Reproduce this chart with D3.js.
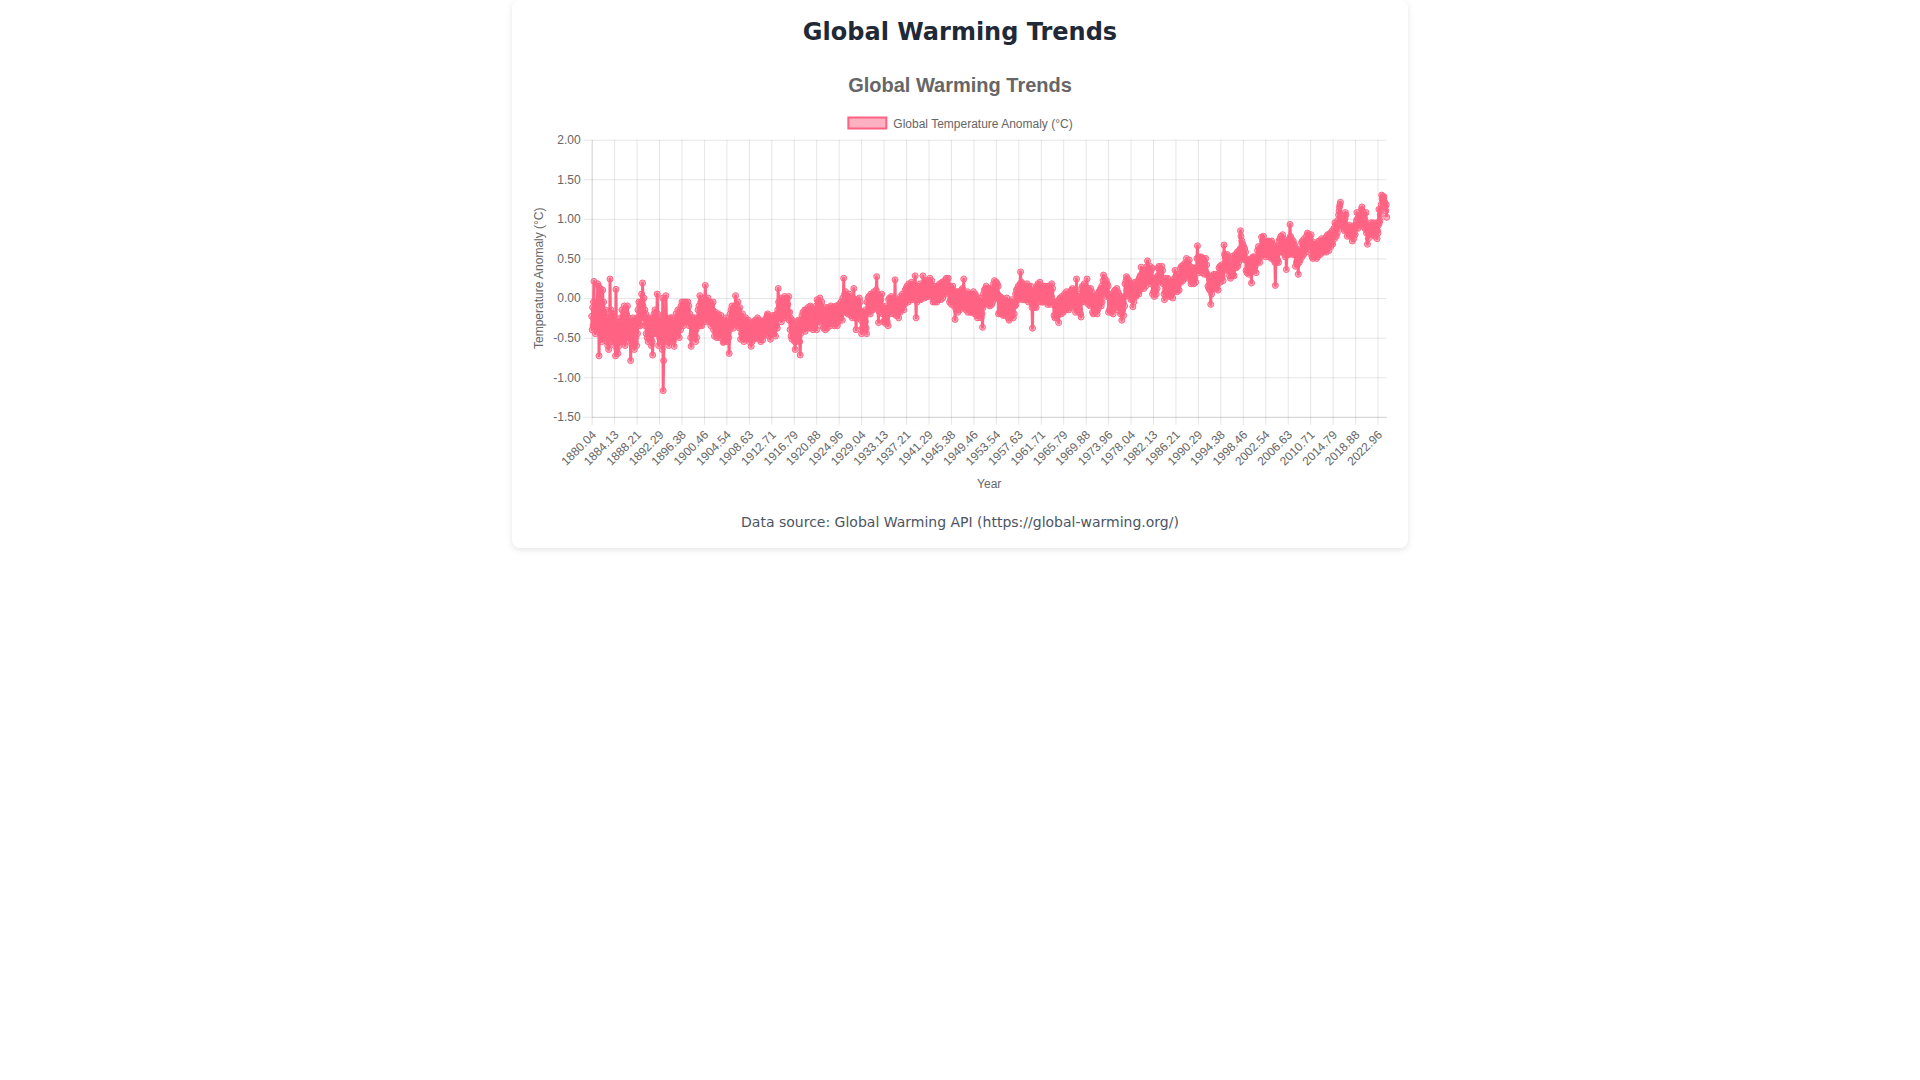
<!DOCTYPE html>
<html>
<head>
<meta charset="utf-8">
<script src="https://cdn.jsdelivr.net/npm/d3@7"></script>
<style>
  html, body { margin: 0; padding: 0; background: #ffffff; width: 1920px; height: 1080px; overflow: hidden; }
  #card { position: absolute; left: 512px; top: 0px; width: 896px; height: 548px; background: #fff;
          border-radius: 8px; box-shadow: 0 2px 6px rgba(0,0,0,0.10); }
  svg { position: absolute; left: 0; top: 0; }
</style>
</head>
<body>
<div id="card"></div>
<svg id="chart" width="1920" height="1080"></svg>
<script>
// Monthly anomalies (°C), Jan 1880 .. Aug 2024
const anomaly = [
/*1880*/ -0.23,-0.40,-0.12,-0.35,-0.05,0.21,-0.30,-0.15,-0.45,-0.20,-0.38,-0.10,
/*1881*/ -0.25,0.18,-0.40,0.15,-0.73,-0.30,-0.10,0.12,-0.45,-0.20,-0.55,-0.15,
/*1882*/ 0.10,-0.35,-0.05,-0.50,-0.20,-0.45,-0.15,-0.40,-0.25,-0.55,-0.30,-0.60,
/*1883*/ -0.45,-0.65,-0.25,-0.50,0.24,-0.30,-0.15,-0.45,-0.20,-0.55,-0.35,-0.20,
/*1884*/ -0.55,-0.30,-0.60,-0.35,-0.73,0.11,-0.45,-0.65,-0.30,-0.70,-0.40,-0.55,
/*1885*/ -0.60,-0.35,-0.55,-0.25,-0.50,-0.30,-0.15,-0.45,-0.25,-0.55,-0.35,-0.10,
/*1886*/ -0.45,-0.60,-0.30,-0.50,-0.20,-0.45,-0.10,-0.40,-0.25,-0.50,-0.35,-0.55,
/*1887*/ -0.30,-0.79,-0.40,-0.55,-0.35,-0.60,-0.25,-0.50,-0.30,-0.65,-0.35,-0.55,
/*1888*/ -0.50,-0.30,-0.60,-0.25,-0.45,-0.15,-0.35,-0.05,-0.25,-0.10,-0.35,-0.20,
/*1889*/ -0.05,0.05,-0.15,0.19,-0.10,-0.25,0.00,-0.30,-0.15,-0.35,-0.20,-0.45,
/*1890*/ -0.25,-0.50,-0.35,-0.55,-0.30,-0.45,-0.25,-0.50,-0.35,-0.40,-0.60,-0.30,
/*1891*/ -0.55,-0.72,-0.25,-0.45,-0.20,-0.40,-0.15,-0.35,-0.20,-0.45,-0.30,0.05,
/*1892*/ -0.20,-0.45,-0.60,-0.35,-0.50,-0.30,-0.55,-0.25,-0.45,-0.35,-0.65,0.00,
/*1893*/ -1.17,-0.79,-0.45,-0.55,-0.30,-0.50,0.03,-0.25,-0.50,-0.30,-0.55,-0.40,
/*1894*/ -0.60,-0.30,-0.45,-0.25,-0.50,-0.30,-0.55,-0.25,-0.45,-0.35,-0.55,-0.30,
/*1895*/ -0.61,-0.50,-0.35,-0.45,-0.20,-0.40,-0.25,-0.45,-0.15,-0.35,-0.25,-0.50,
/*1896*/ -0.35,-0.15,-0.40,-0.10,-0.30,-0.05,-0.25,-0.10,-0.35,-0.05,-0.30,-0.15,
/*1897*/ -0.30,-0.05,-0.25,-0.10,-0.30,-0.15,-0.05,-0.30,-0.10,-0.35,-0.20,-0.30,
/*1898*/ -0.50,-0.61,-0.35,-0.45,-0.25,-0.40,-0.30,-0.50,-0.25,-0.45,-0.35,-0.55,
/*1899*/ -0.40,-0.50,-0.25,-0.35,-0.15,-0.30,-0.10,-0.25,0.03,-0.35,-0.05,-0.30,
/*1900*/ -0.35,-0.15,-0.30,-0.05,-0.20,0.00,-0.25,-0.05,0.16,-0.20,-0.30,-0.10,
/*1901*/ -0.05,-0.25,0.00,-0.20,-0.10,-0.30,-0.05,-0.25,-0.35,-0.10,-0.30,-0.15,
/*1902*/ -0.15,-0.05,-0.40,-0.25,-0.48,-0.30,-0.18,-0.42,-0.28,-0.50,-0.35,-0.22,
/*1903*/ -0.20,-0.45,-0.28,-0.50,-0.30,-0.38,-0.22,-0.48,-0.35,-0.28,-0.45,-0.56,
/*1904*/ -0.40,-0.55,-0.30,-0.52,-0.38,-0.25,-0.48,-0.35,-0.55,-0.30,-0.45,-0.50,
/*1905*/ -0.70,-0.40,-0.20,-0.35,-0.15,-0.28,-0.10,-0.30,-0.22,-0.38,-0.18,-0.32,
/*1906*/ -0.10,-0.30,0.03,-0.25,-0.08,-0.20,-0.35,-0.05,-0.28,-0.15,-0.38,-0.12,
/*1907*/ -0.30,-0.52,-0.25,-0.45,-0.38,-0.20,-0.48,-0.35,-0.55,-0.28,-0.50,-0.40,
/*1908*/ -0.25,-0.45,-0.35,-0.52,-0.30,-0.48,-0.28,-0.40,-0.55,-0.35,-0.50,-0.32,
/*1909*/ -0.61,-0.40,-0.55,-0.35,-0.48,-0.30,-0.52,-0.38,-0.45,-0.28,-0.50,-0.42,
/*1910*/ -0.30,-0.50,-0.25,-0.45,-0.35,-0.52,-0.28,-0.42,-0.38,-0.55,-0.32,-0.48,
/*1911*/ -0.40,-0.53,-0.30,-0.48,-0.35,-0.28,-0.45,-0.30,-0.40,-0.25,-0.42,-0.22,
/*1912*/ -0.20,-0.42,-0.28,-0.48,-0.25,-0.38,-0.52,-0.30,-0.45,-0.28,-0.40,-0.22,
/*1913*/ -0.25,-0.45,-0.28,-0.40,-0.22,-0.48,-0.30,-0.35,-0.20,-0.38,-0.15,0.12,
/*1914*/ -0.05,-0.22,-0.10,-0.25,0.00,-0.18,-0.30,-0.05,-0.20,-0.02,-0.25,-0.12,
/*1915*/ -0.08,0.02,-0.20,-0.05,-0.25,-0.10,0.00,-0.22,-0.08,-0.18,0.02,-0.28,
/*1916*/ -0.18,-0.40,-0.25,-0.48,-0.30,-0.52,-0.28,-0.42,-0.35,-0.50,-0.38,-0.55,
/*1917*/ -0.65,-0.40,-0.55,-0.35,-0.48,-0.30,-0.45,-0.28,-0.50,-0.40,-0.55,-0.72,
/*1918*/ -0.45,-0.28,-0.40,-0.22,-0.35,-0.18,-0.38,-0.25,-0.30,-0.15,-0.42,-0.30,
/*1919*/ -0.15,-0.32,-0.20,-0.38,-0.12,-0.28,-0.35,-0.18,-0.30,-0.10,-0.38,-0.25,
/*1920*/ -0.12,-0.35,-0.18,-0.40,-0.20,-0.30,-0.15,-0.38,-0.25,-0.32,-0.10,-0.40,
/*1921*/ -0.02,-0.25,-0.05,-0.28,-0.08,-0.22,0.00,-0.30,-0.10,-0.20,-0.05,-0.25,
/*1922*/ -0.35,-0.18,-0.38,-0.15,-0.30,-0.22,-0.40,-0.12,-0.32,-0.20,-0.38,-0.25,
/*1923*/ -0.12,-0.32,-0.15,-0.30,-0.20,-0.35,-0.10,-0.28,-0.18,-0.32,-0.12,-0.25,
/*1924*/ -0.30,-0.12,-0.35,-0.18,-0.28,-0.10,-0.32,-0.20,-0.35,-0.15,-0.30,-0.22,
/*1925*/ -0.08,-0.25,-0.10,-0.22,-0.05,-0.20,-0.12,-0.28,0.00,-0.18,0.25,-0.10,
/*1926*/ 0.05,-0.15,0.08,-0.12,0.00,-0.18,-0.05,-0.20,0.02,-0.10,0.05,-0.15,
/*1927*/ -0.05,-0.22,-0.02,-0.18,-0.08,-0.25,0.00,-0.15,0.12,-0.20,-0.05,-0.25,
/*1928*/ -0.10,-0.40,-0.05,-0.22,-0.02,-0.18,-0.08,-0.25,0.00,-0.15,-0.05,-0.20,
/*1929*/ -0.28,-0.45,-0.20,-0.38,-0.22,-0.35,-0.18,-0.40,-0.25,-0.30,-0.15,-0.38,
/*1930*/ -0.45,-0.05,-0.18,0.00,-0.15,0.02,-0.12,-0.05,-0.20,0.05,-0.08,-0.15,
/*1931*/ 0.02,-0.15,0.05,-0.10,0.08,-0.05,-0.12,0.05,-0.08,0.10,0.27,-0.05,
/*1932*/ 0.05,-0.15,-0.31,-0.05,-0.18,0.02,-0.10,-0.02,-0.15,0.05,-0.12,-0.20,
/*1933*/ -0.12,-0.30,-0.15,-0.28,-0.18,-0.32,-0.10,-0.25,-0.20,-0.30,-0.15,-0.35,
/*1934*/ -0.02,-0.18,0.00,-0.15,-0.05,-0.20,0.02,-0.12,-0.08,0.00,-0.15,-0.05,
/*1935*/ -0.05,-0.20,0.23,-0.15,-0.22,-0.05,-0.18,-0.08,-0.20,-0.02,-0.25,-0.10,
/*1936*/ -0.02,-0.18,0.02,-0.15,-0.05,-0.12,0.05,-0.10,-0.02,-0.15,0.00,-0.08,
/*1937*/ 0.10,-0.05,0.12,-0.02,0.15,0.00,0.08,-0.05,0.18,0.02,0.10,-0.02,
/*1938*/ 0.12,0.00,0.20,0.05,0.15,-0.02,0.18,0.05,0.12,0.00,0.28,0.05,
/*1939*/ -0.25,0.10,-0.05,0.15,0.00,0.12,-0.02,0.10,0.05,0.18,-0.02,0.12,
/*1940*/ 0.00,0.15,0.02,0.28,0.05,0.18,0.00,0.20,0.08,0.22,0.02,0.15,
/*1941*/ 0.18,0.02,0.22,0.05,0.20,0.08,0.25,0.02,0.18,0.05,0.22,0.10,
/*1942*/ 0.12,-0.05,0.15,-0.02,0.10,-0.05,0.12,0.00,0.08,-0.05,0.15,0.02,
/*1943*/ -0.02,0.15,0.00,0.18,0.05,0.12,-0.02,0.15,0.05,0.20,0.00,0.12,
/*1944*/ 0.20,0.05,0.22,0.08,0.18,0.10,0.25,0.05,0.20,0.12,0.25,0.08,
/*1945*/ 0.12,-0.05,0.15,-0.02,0.10,-0.08,0.12,0.00,0.15,-0.05,0.08,-0.10,
/*1946*/ 0.05,-0.27,0.08,-0.15,0.02,-0.12,0.08,-0.18,0.05,-0.10,0.02,-0.15,
/*1947*/ -0.12,0.08,-0.10,0.10,-0.08,0.12,-0.05,0.08,0.24,-0.12,0.05,-0.10,
/*1948*/ 0.05,-0.15,0.02,-0.12,0.08,-0.18,0.00,-0.15,0.05,-0.10,0.02,-0.18,
/*1949*/ -0.15,0.05,-0.18,0.02,-0.12,0.08,-0.15,0.00,-0.20,0.05,-0.12,0.02,
/*1950*/ -0.22,-0.05,-0.25,-0.02,-0.20,-0.08,-0.18,0.00,-0.22,-0.05,-0.25,-0.10,
/*1951*/ -0.20,-0.37,-0.12,0.05,-0.08,0.10,-0.02,0.12,0.00,0.15,-0.05,0.12,
/*1952*/ 0.10,-0.08,0.12,-0.05,0.08,-0.10,0.12,-0.02,0.10,-0.08,0.05,-0.05,
/*1953*/ 0.02,0.18,0.05,0.22,0.00,0.15,0.08,0.20,0.02,0.18,0.05,0.15,
/*1954*/ -0.20,-0.02,-0.18,0.02,-0.15,-0.05,-0.20,0.00,-0.18,-0.05,-0.22,-0.08,
/*1955*/ -0.02,-0.20,-0.05,-0.22,-0.08,-0.18,0.00,-0.20,-0.05,-0.25,-0.10,-0.28,
/*1956*/ -0.22,-0.05,-0.25,-0.08,-0.20,-0.02,-0.22,-0.10,-0.25,-0.05,-0.20,-0.08,
/*1957*/ -0.10,0.05,-0.08,0.10,-0.02,0.12,0.00,0.15,-0.02,0.12,0.05,0.18,
/*1958*/ 0.33,0.15,0.20,0.02,0.18,-0.02,0.15,0.05,0.12,-0.02,0.15,0.00,
/*1959*/ 0.15,-0.02,0.18,0.00,0.12,-0.05,0.15,-0.02,0.10,0.02,0.15,-0.05,
/*1960*/ 0.08,-0.12,-0.38,0.05,-0.10,0.08,-0.12,0.10,-0.08,0.05,-0.12,0.12,
/*1961*/ 0.15,-0.02,0.18,0.00,0.15,0.02,0.20,-0.05,0.12,0.00,0.15,-0.05,
/*1962*/ 0.12,-0.05,0.15,-0.02,0.12,0.00,0.15,-0.05,0.10,0.02,0.12,-0.08,
/*1963*/ 0.15,-0.05,0.12,0.00,0.15,-0.08,0.10,0.02,0.18,-0.02,0.12,-0.05,
/*1964*/ -0.05,-0.22,-0.08,-0.25,-0.10,-0.20,-0.05,-0.25,-0.12,-0.22,-0.08,-0.31,
/*1965*/ -0.02,-0.18,0.00,-0.15,-0.05,-0.20,0.02,-0.12,-0.08,-0.18,0.00,-0.15,
/*1966*/ 0.05,-0.12,0.02,-0.15,0.08,-0.10,0.05,-0.12,0.00,-0.15,0.05,-0.10,
/*1967*/ -0.10,0.08,-0.12,0.10,-0.08,0.12,-0.05,0.08,-0.10,0.10,-0.08,0.05,
/*1968*/ -0.18,0.02,0.24,-0.15,0.00,-0.12,0.05,-0.18,0.02,-0.15,0.00,-0.20,
/*1969*/ -0.24,0.12,-0.05,0.15,-0.02,0.12,0.00,0.18,-0.05,0.15,0.02,0.12,
/*1970*/ 0.12,0.24,-0.05,0.12,-0.08,0.10,-0.05,0.08,-0.10,0.12,-0.05,0.08,
/*1971*/ 0.02,-0.18,0.00,-0.20,0.02,-0.15,-0.05,-0.18,0.00,-0.15,0.02,-0.20,
/*1972*/ -0.15,0.05,-0.12,0.08,-0.08,0.10,-0.05,0.12,-0.10,0.15,-0.05,0.12,
/*1973*/ 0.22,0.29,0.10,0.25,0.05,0.20,0.08,0.22,0.02,0.18,0.05,0.15,
/*1974*/ -0.18,0.02,-0.15,0.05,-0.12,-0.02,-0.18,0.02,-0.15,-0.05,-0.20,0.00,
/*1975*/ 0.08,-0.10,0.10,-0.08,0.05,-0.12,0.12,-0.05,0.08,-0.15,0.05,-0.08,
/*1976*/ -0.12,0.02,-0.20,-0.02,-0.18,-0.28,0.00,-0.15,-0.05,-0.22,0.02,-0.10,
/*1977*/ 0.18,0.02,0.22,0.27,0.10,0.25,0.05,0.20,0.08,0.22,0.05,0.18,
/*1978*/ 0.10,-0.02,0.15,0.00,0.18,-0.11,0.12,-0.05,0.15,0.02,0.20,0.05,
/*1979*/ 0.02,0.15,0.05,0.20,0.08,0.22,0.05,0.25,0.10,0.28,0.12,0.39,
/*1980*/ 0.30,0.15,0.32,0.18,0.35,0.12,0.30,0.20,0.35,0.15,0.28,0.22,
/*1981*/ 0.40,0.47,0.22,0.38,0.20,0.35,0.25,0.40,0.18,0.35,0.22,0.38,
/*1982*/ 0.05,0.22,0.08,0.25,0.02,0.20,0.10,0.25,0.05,0.22,0.12,0.28,
/*1983*/ 0.38,0.22,0.40,0.25,0.35,0.20,0.37,0.25,0.40,0.22,0.35,0.18,
/*1984*/ 0.22,0.05,-0.02,0.20,0.08,0.25,0.05,0.22,0.10,0.25,0.02,0.18,
/*1985*/ 0.05,0.20,0.02,0.18,0.08,0.22,0.05,0.18,0.00,0.20,0.08,0.15,
/*1986*/ 0.25,0.35,0.10,0.28,0.12,0.25,0.08,0.30,0.15,0.28,0.10,0.25,
/*1987*/ 0.22,0.38,0.20,0.40,0.25,0.35,0.22,0.42,0.28,0.38,0.25,0.40,
/*1988*/ 0.45,0.28,0.50,0.30,0.45,0.25,0.42,0.30,0.48,0.28,0.40,0.25,
/*1989*/ 0.18,0.35,0.20,0.38,0.22,0.32,0.18,0.38,0.25,0.35,0.20,0.38,
/*1990*/ 0.35,0.50,0.66,0.38,0.52,0.32,0.48,0.35,0.50,0.38,0.52,0.40,
/*1991*/ 0.48,0.32,0.50,0.35,0.48,0.30,0.45,0.35,0.50,0.32,0.42,0.30,
/*1992*/ 0.30,0.15,0.28,0.12,0.25,0.10,0.22,-0.08,0.18,0.05,0.25,0.12,
/*1993*/ 0.28,0.15,0.30,0.12,0.25,0.18,0.30,0.12,0.28,0.15,0.25,0.10,
/*1994*/ 0.22,0.38,0.25,0.40,0.20,0.35,0.25,0.42,0.28,0.38,0.22,0.40,
/*1995*/ 0.67,0.55,0.38,0.52,0.35,0.50,0.40,0.55,0.35,0.52,0.38,0.45,
/*1996*/ 0.28,0.42,0.25,0.45,0.30,0.40,0.28,0.53,0.30,0.42,0.28,0.40,
/*1997*/ 0.40,0.55,0.38,0.52,0.42,0.58,0.40,0.55,0.45,0.60,0.48,0.62,
/*1998*/ 0.85,0.78,0.60,0.72,0.55,0.68,0.52,0.65,0.50,0.62,0.48,0.58,
/*1999*/ 0.35,0.50,0.32,0.48,0.35,0.45,0.30,0.48,0.38,0.45,0.32,0.48,
/*2000*/ 0.19,0.50,0.35,0.52,0.38,0.48,0.35,0.52,0.40,0.45,0.32,0.50,
/*2001*/ 0.45,0.60,0.48,0.65,0.50,0.62,0.45,0.60,0.52,0.65,0.77,0.55,
/*2002*/ 0.72,0.55,0.78,0.58,0.70,0.55,0.68,0.52,0.70,0.58,0.72,0.55,
/*2003*/ 0.70,0.55,0.72,0.52,0.68,0.55,0.70,0.50,0.72,0.58,0.68,0.52,
/*2004*/ 0.62,0.48,0.65,0.45,0.16,0.50,0.62,0.45,0.65,0.48,0.62,0.45,
/*2005*/ 0.72,0.58,0.75,0.60,0.78,0.62,0.75,0.58,0.80,0.62,0.75,0.60,
/*2006*/ 0.55,0.70,0.52,0.68,0.36,0.65,0.55,0.72,0.58,0.70,0.55,0.75,
/*2007*/ 0.93,0.78,0.62,0.75,0.58,0.70,0.55,0.72,0.58,0.68,0.55,0.65,
/*2008*/ 0.40,0.58,0.45,0.60,0.42,0.55,0.30,0.58,0.45,0.62,0.48,0.55,
/*2009*/ 0.55,0.70,0.52,0.72,0.58,0.68,0.55,0.75,0.60,0.70,0.58,0.72,
/*2010*/ 0.78,0.65,0.82,0.70,0.80,0.65,0.78,0.62,0.75,0.68,0.80,0.55,
/*2011*/ 0.52,0.65,0.50,0.68,0.55,0.70,0.52,0.65,0.55,0.68,0.50,0.65,
/*2012*/ 0.52,0.62,0.55,0.72,0.58,0.70,0.55,0.72,0.60,0.75,0.62,0.58,
/*2013*/ 0.70,0.58,0.72,0.60,0.75,0.62,0.70,0.58,0.78,0.62,0.80,0.65,
/*2014*/ 0.75,0.60,0.80,0.68,0.82,0.65,0.78,0.70,0.85,0.68,0.78,0.82,
/*2015*/ 0.88,0.75,0.95,0.80,0.92,0.78,0.90,0.82,0.98,0.92,1.05,1.10,
/*2016*/ 1.15,1.18,1.21,1.05,0.98,0.88,0.95,1.00,0.90,0.92,0.95,0.85,
/*2017*/ 1.00,1.08,1.05,0.90,0.85,0.78,0.88,0.90,0.82,0.92,0.85,0.80,
/*2018*/ 0.78,0.85,0.90,0.82,0.72,0.80,0.85,0.75,0.82,0.92,0.80,0.88,
/*2019*/ 0.92,0.98,1.08,1.00,0.88,0.98,1.02,0.95,0.92,1.05,0.95,1.05,
/*2020*/ 1.12,1.15,1.10,1.05,0.98,0.90,0.95,0.88,0.98,0.92,1.08,0.82,
/*2021*/ 0.85,0.68,0.88,0.75,0.80,0.85,0.90,0.82,0.92,0.95,0.88,0.85,
/*2022*/ 0.88,0.82,0.95,0.80,0.78,0.88,0.90,0.85,0.88,0.95,0.75,0.85,
/*2023*/ 0.82,0.92,1.12,0.95,0.98,1.05,1.12,1.18,1.30,1.25,1.28,1.22,
/*2024*/ 1.25,1.28,1.22,1.20,1.15,1.10,1.18,1.02
];

const tickLabels = ["1880.04","1884.13","1888.21","1892.29","1896.38","1900.46","1904.54","1908.63",
  "1912.71","1916.79","1920.88","1924.96","1929.04","1933.13","1937.21","1941.29","1945.38","1949.46",
  "1953.54","1957.63","1961.71","1965.79","1969.88","1973.96","1978.04","1982.13","1986.21","1990.29",
  "1994.38","1998.46","2002.54","2006.63","2010.71","2014.79","2018.88","2022.96"];
const tickStep = 49;               // months between shown labels
const yTicks = [-1.5, -1.0, -0.5, 0, 0.5, 1.0, 1.5, 2.0];

const pageTitle = "Global Warming Trends";
const chartTitle = "Global Warming Trends";
const seriesName = "Global Temperature Anomaly (°C)";
const yTitle = "Temperature Anomaly (°C)";
const xTitle = "Year";
const sourceText = "Data source: Global Warming API (https://global-warming.org/)";

const svg = d3.select("#chart");
const CF = "'Liberation Sans', Arial, Helvetica, sans-serif";
const PF = "'DejaVu Sans', sans-serif";
const gridCol = "rgba(0,0,0,0.1)";
const lineCol = "rgb(255,99,132)";
const fillCol = "rgba(255,99,132,0.5)";

const plot = { left: 591.7, right: 1386.7, top: 139.7, bottom: 416.8 };
const idx = d3.range(anomaly.length);
const x = d3.scaleLinear().domain([0, anomaly.length - 1]).range([plot.left, plot.right]);
const y = d3.scaleLinear().domain([-1.5, 2.0]).range([plot.bottom, plot.top]);
const tickIdx = tickLabels.map((_, i) => i * tickStep);

// page title
svg.append("text").attr("x", 960).attr("y", 32).attr("text-anchor", "middle")
  .attr("dominant-baseline", "central").style("font-family", PF).style("font-weight", "bold")
  .style("font-size", "24px").style("fill", "#1f2937").text(pageTitle);

// chart title
svg.append("text").attr("x", 960).attr("y", 84.5).attr("text-anchor", "middle")
  .attr("dominant-baseline", "central").style("font-family", CF).style("font-weight", "bold")
  .style("font-size", "20px").style("fill", "#666").text(chartTitle);

// legend
const leg = svg.append("g");
const legText = leg.append("text").attr("y", 123.5).attr("dominant-baseline", "central")
  .style("font-family", CF).style("font-size", "12px").style("fill", "#666").text(seriesName);
const tw = legText.node().getComputedTextLength();
const lx0 = 960 - (40 + 6 + tw) / 2;
leg.append("rect").attr("x", lx0 + 1).attr("y", 117.5).attr("width", 38).attr("height", 11)
  .attr("fill", fillCol).attr("stroke", lineCol).attr("stroke-width", 2);
legText.attr("x", lx0 + 46);

// grid
svg.append("g").attr("transform", `translate(${plot.left},0)`)
  .call(d3.axisLeft(y).tickValues(yTicks).tickSize(-(plot.right - plot.left)).tickFormat(""))
  .call(g => g.select(".domain").remove())
  .call(g => g.selectAll("line").attr("stroke", gridCol));
svg.append("g").attr("transform", `translate(0,${plot.bottom})`)
  .call(d3.axisBottom(x).tickValues(tickIdx).tickSize(-(plot.bottom - plot.top)).tickFormat(""))
  .call(g => g.select(".domain").remove())
  .call(g => g.selectAll("line").attr("stroke", gridCol));

// y axis (ticks + labels)
svg.append("g").attr("transform", `translate(${plot.left},0)`)
  .call(d3.axisLeft(y).tickValues(yTicks).tickSize(8).tickSizeOuter(0).tickPadding(3).tickFormat(d => d.toFixed(2)))
  .call(g => g.select(".domain").attr("stroke", gridCol))
  .call(g => g.selectAll("line").attr("stroke", gridCol))
  .call(g => g.selectAll("text").style("font-family", CF).style("font-size", "12px").style("fill", "#666"));

// x axis (ticks + rotated labels)
svg.append("g").attr("transform", `translate(0,${plot.bottom})`)
  .call(d3.axisBottom(x).tickValues(tickIdx).tickSize(8).tickSizeOuter(0).tickFormat((d, i) => tickLabels[i]))
  .call(g => g.select(".domain").attr("stroke", gridCol))
  .call(g => g.selectAll("line").attr("stroke", gridCol))
  .call(g => g.selectAll("text")
     .attr("y", 0).attr("dy", null)
     .attr("text-anchor", "end").attr("dominant-baseline", "central")
     .attr("transform", "translate(2,16) rotate(-45)")
     .style("font-family", CF).style("font-size", "12px").style("fill", "#666"));

// axis titles
svg.append("text").attr("transform", `translate(539,${(plot.top + plot.bottom) / 2}) rotate(-90)`)
  .attr("text-anchor", "middle").attr("dominant-baseline", "central")
  .style("font-family", CF).style("font-size", "12px").style("fill", "#666").text(yTitle);
svg.append("text").attr("x", (plot.left + plot.right) / 2).attr("y", 484)
  .attr("text-anchor", "middle").attr("dominant-baseline", "central")
  .style("font-family", CF).style("font-size", "12px").style("fill", "#666").text(xTitle);

// series line
const line = d3.line().x(i => x(i)).y(i => y(anomaly[i]));
svg.append("path").datum(idx).attr("d", line).attr("fill", "none")
  .attr("stroke", lineCol).attr("stroke-width", 3).attr("stroke-linejoin", "round");
svg.append("g").selectAll("circle").data(idx).join("circle")
  .attr("cx", i => x(i)).attr("cy", i => y(anomaly[i])).attr("r", 3)
  .attr("fill", fillCol).attr("stroke", lineCol).attr("stroke-width", 1);

// data source
svg.append("text").attr("x", 960).attr("y", 522).attr("text-anchor", "middle")
  .attr("dominant-baseline", "central").style("font-family", PF)
  .style("font-size", "14px").style("fill", "#4b5563").text(sourceText);
</script>
</body>
</html>
